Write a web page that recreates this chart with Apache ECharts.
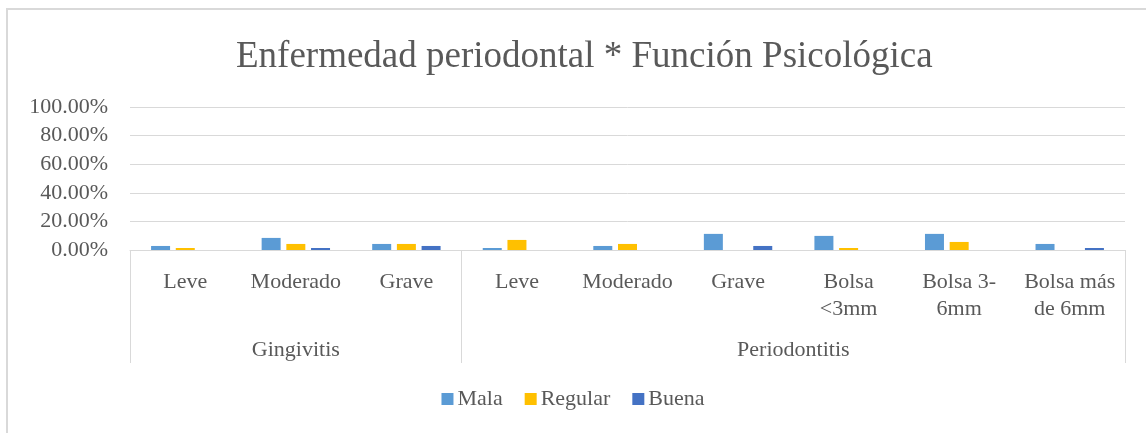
<!DOCTYPE html>
<html>
<head>
<meta charset="utf-8">
<script src="https://cdn.jsdelivr.net/npm/echarts@6/dist/echarts.min.js"></script>
<style>
  html, body { margin: 0; padding: 0; background: #fff; }
  #main { width: 1146px; height: 433px; }
</style>
</head>
<body>
<div id="main"></div>
<script>
// datos (porcentajes)
var categories = ['Leve', 'Moderado', 'Grave', 'Leve', 'Moderado', 'Grave', 'Bolsa\n<3mm', 'Bolsa 3-\n6mm', 'Bolsa más\nde 6mm'];
var groups = ['Gingivitis', 'Periodontitis'];
var groupSizes = [3, 6];
var yTicks = [0, 20, 40, 60, 80, 100];

var mala    = [2.82, 8.45, 4.23, 1.41, 2.82, 11.27, 9.86, 11.27, 4.23];
var regular = [1.41, 4.23, 4.23, 7.04, 4.23, 0, 1.41, 5.63, 0];
var buena   = [0, 1.41, 2.82, 0, 0, 2.82, 0, 0, 1.41];

var font = 'Liberation Serif, Times New Roman, serif';
var gris = '#595959';
var fs = 22;

// limites y centros de cada grupo
var bordes = [0];
var centros = [];
var acum = 0;
for (var i = 0; i < groupSizes.length; i++) {
    centros.push(acum + groupSizes[i] / 2);
    acum += groupSizes[i];
    bordes.push(acum);
}

var myChart = echarts.init(document.getElementById('main'));

function serie(name, data, color) {
    return {
        name: name,
        type: 'bar',
        data: data,
        barWidth: 19,
        barGap: '30%',
        itemStyle: { color: color }
    };
}

var option = {
    backgroundColor: '#fff',
    animation: false,
    title: {
        text: 'Enfermedad periodontal * Función Psicológica',
        left: 231,
        top: 34,
        textStyle: { fontFamily: font, fontSize: 37, fontWeight: 'normal', color: gris }
    },
    graphic: [{
        type: 'rect',
        shape: { x: 7, y: 9, width: 1160, height: 440 },
        style: { fill: 'none', stroke: '#D9D9D9', lineWidth: 2 },
        silent: true
    }],
    legend: {
        data: ['Mala', 'Regular', 'Buena'],
        top: 383,
        left: 'center',
        icon: 'rect',
        itemWidth: 12,
        itemHeight: 12,
        itemGap: 22,
        itemStyle: { borderWidth: 0 },
        textStyle: { fontFamily: font, fontSize: fs, color: gris, padding: [0, 0, 0, -1] }
    },
    grid: { left: 130, right: 21, top: 107, bottom: 183 },
    xAxis: [{
        type: 'category',
        data: categories,
        axisLine: { lineStyle: { color: '#D9D9D9', width: 1 } },
        axisTick: { show: false },
        axisLabel: {
            interval: 0,
            margin: 19,
            fontFamily: font,
            fontSize: fs,
            lineHeight: 27,
            color: gris
        }
    }, {
        type: 'value',
        min: 0,
        max: acum,
        position: 'bottom',
        axisLine: { show: false },
        splitLine: { show: false },
        axisTick: {
            show: true,
            customValues: bordes,
            length: 113,
            lineStyle: { color: '#D9D9D9', width: 1 }
        },
        axisLabel: {
            customValues: centros,
            margin: 89,
            fontFamily: font,
            fontSize: fs,
            color: gris,
            formatter: function (v) {
                var k = centros.indexOf(v);
                return k >= 0 ? groups[k] : '';
            }
        }
    }],
    yAxis: {
        type: 'value',
        min: yTicks[0],
        max: yTicks[yTicks.length - 1],
        interval: 20,
        axisLine: { show: false },
        axisTick: { show: false },
        splitLine: { lineStyle: { color: '#D9D9D9', width: 1 } },
        axisLabel: {
            margin: 22,
            fontFamily: font,
            fontSize: fs,
            color: gris,
            formatter: function (v) { return v.toFixed(2) + '%'; }
        }
    },
    series: [
        serie('Mala', mala, '#5B9BD5'),
        serie('Regular', regular, '#FFC000'),
        serie('Buena', buena, '#4472C4')
    ]
};

myChart.setOption(option);
</script>
</body>
</html>
